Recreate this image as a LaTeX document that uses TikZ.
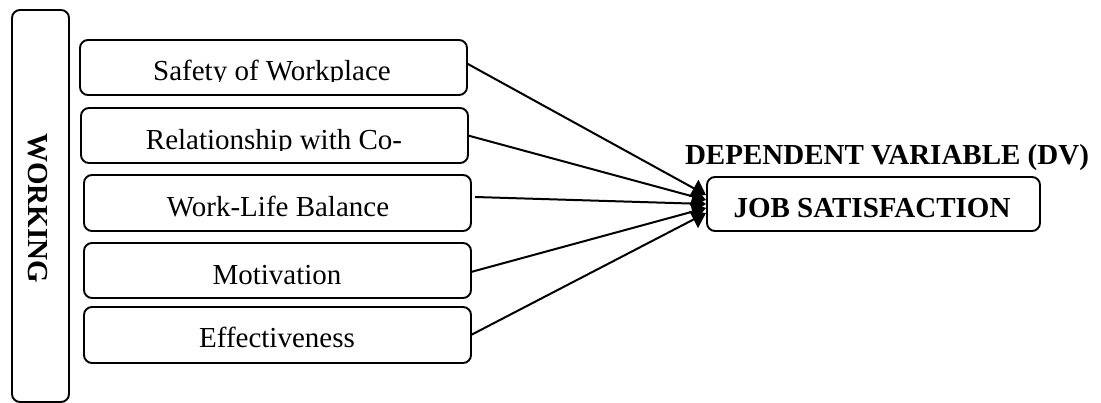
\documentclass[tikz,border=0pt]{standalone}
\usepackage{fontspec}
\setmainfont{Liberation Serif}
\usetikzlibrary{arrows.meta,calc}
\tikzset{
  box/.style={draw, line width=1.9pt, rounded corners=8pt, inner sep=0pt, outer sep=0pt, minimum width=387pt, minimum height=55pt},
  lbl/.style={anchor=base, inner sep=0pt, font=\fontsize{29}{32}\selectfont},
  blbl/.style={lbl, font=\fontsize{29}{32}\selectfont\bfseries},
  arr/.style={line width=2pt, -{Triangle[length=14pt,width=19pt]}}
}
\begin{document}
\begin{tikzpicture}[x=1pt,y=-1pt]
\useasboundingbox (0,0) rectangle (1101,403);
\node[box, minimum width=57pt, minimum height=392pt] (outer) at (40.5,206) {};
\node[blbl, rotate=-90] (working) at (28,208) {WORKING};
\node[box] (b1) at (273.5,67.5) {};
\node[box] (b2) at (274.5,135.5) {};
\node[box, minimum height=56pt] (b3) at (277.5,203) {};
\node[box] (b4) at (277.5,270.5) {};
\node[box, minimum height=56pt] (b5) at (277.5,335) {};
\node[box, minimum width=333pt, minimum height=54pt] (job) at (873.5,204) {};
\begin{scope}
\clip (80,40) rectangle (467,82);
\node[lbl] (t1) at (272,81) {Safety of Workplace};
\end{scope}
\begin{scope}
\clip (81,108) rectangle (468,151);
\node[lbl] (t2) at (274,150) {Relationship with Co-};
\end{scope}
\node[lbl] (t3) at (278,217) {Work-Life Balance};
\node[lbl] (t4) at (277,285) {Motivation};
\node[lbl] (t5) at (277,348) {Effectiveness};
\node[blbl] (tjob) at (872,218) {JOB SATISFACTION};
\node[blbl] (dv) at (887,165) {DEPENDENT VARIABLE (DV)};
\draw[arr] ($(b1.east)+(0,-4)$) -- ($(job.west)+(-1,-9)$);
\draw[arr] (b2.east) -- ($(job.west)+(-1,-4)$);
\draw[arr] ($(b3.east)+(4,-6)$) -- ($(job.west)+(-1,0)$);
\draw[arr] ($(b4.east)+(0,1.5)$) -- ($(job.west)+(-1,4)$);
\draw[arr] (b5.east) -- ($(job.west)+(-1,9)$);
\end{tikzpicture}
\end{document}
